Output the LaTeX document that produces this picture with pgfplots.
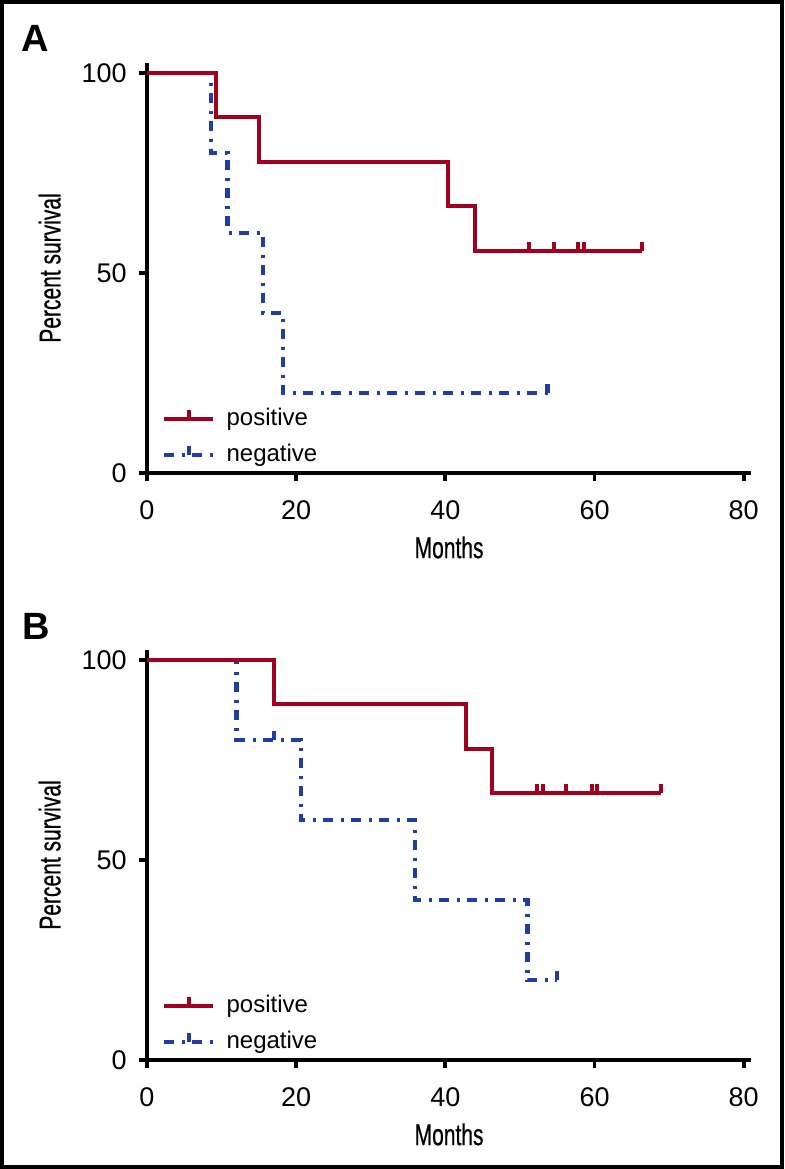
\documentclass[border=0pt]{standalone}
\usepackage{fontspec}
\setmainfont{Liberation Sans}
\newfontfamily\condfont[FakeStretch=0.7,FakeBold=0.6]{Liberation Sans}
\usepackage{pgfplots}
\pgfplotsset{compat=1.18}
\definecolor{kmred}{HTML}{A3001E}
\definecolor{kmblue}{HTML}{1F3DA6}

% censor tick: short upward stroke
\pgfdeclareplotmark{cens}{%
  \pgfpathmoveto{\pgfqpoint{0pt}{0pt}}%
  \pgfpathlineto{\pgfqpoint{0pt}{\pgfplotmarksize}}%
  \pgfusepathqstroke}

\tikzset{
  posline/.style={kmred, line width=2pt},
  negline/.style={kmblue, line width=2.1pt, dash pattern=on 5pt off 4pt on 1.5pt off 3.5pt},
}

\pgfplotsset{
  kmaxis/.style={
    scale only axis, width=302.1pt, height=205pt,
    xmin=0, xmax=81, ymin=0, ymax=102.5,
    axis x line*=bottom, axis y line*=left,
    axis line style={-, line width=1.9pt, black},
    xtick={0,20,40,60,80}, ytick={0,50,100},
    tick align=outside, major tick length=4pt,
    tick style={line width=1.9pt, black},
    /pgf/number format/assume math mode=true,
    ticklabel style={font=\fontsize{13.5}{15}\selectfont},
    xticklabel style={inner sep=0pt, yshift=-9.5pt},
    yticklabel style={inner sep=0pt, xshift=-6pt},
    xlabel={Months}, ylabel={Percent survival},
    label style={font=\condfont\fontsize{15}{17}\selectfont},
    xlabel style={at={(axis description cs:0.5,0)}, anchor=north, inner sep=0pt, yshift=-31.5pt},
    ylabel style={at={(axis description cs:-0.161,0.5)}, anchor=center},
    clip=false,
    legend style={draw=none, fill=none, at={(axis description cs:0,0)}, anchor=south west,
      xshift=7.5pt, yshift=3pt, inner sep=0pt, row sep=6.5pt, column sep=5.5pt,
      font=\fontsize{12}{14}\selectfont,
      nodes={inner sep=0pt, text height=8.8pt, text depth=2.6pt}},
    legend cell align=left, reverse legend,
  },
  posleg/.style={legend image code/.code={
      \draw[posline] (0pt,0pt) -- (24.5pt,0pt);
      \draw[posline] (12.25pt,0pt) -- (12.25pt,4.5pt);}},
  negleg/.style={legend image code/.code={
      \draw[negline] (0pt,0pt) -- (24.5pt,0pt);
      \draw[kmblue, line width=2.1pt] (12.25pt,0pt) -- (12.25pt,4.5pt);}},
}

\begin{document}
\begin{tikzpicture}
\useasboundingbox (0,0) rectangle (392pt,584.5pt);
\draw[line width=2pt] (1pt,1pt) rectangle (391pt,583.5pt);

\node[anchor=base west, inner sep=0pt, font=\bfseries\fontsize{19}{22}\selectfont] at (10.5pt,558.5pt) {A};
\node[anchor=base west, inner sep=0pt, font=\bfseries\fontsize{19}{22}\selectfont] at (11pt,264.5pt) {B};

% panel A
\begin{axis}[kmaxis, at={(73.5pt,348pt)}, anchor=south west]
\addplot[negline, const plot, negleg]
  coordinates {(0,100) (8.6,80) (10.8,60) (15.6,40) (18.2,20) (53.7,20)};
\addlegendentry{negative}
\addplot[posline, const plot, posleg]
  coordinates {(0,100) (9.3,88.9) (15.0,77.8) (40.4,66.7) (44.0,55.6) (66.4,55.6)};
\addlegendentry{positive}
\addplot[only marks, mark=cens, mark size=4.5pt, kmred, mark options={solid, line width=2pt}, forget plot]
  coordinates {(51.2,55.6) (54.5,55.6) (57.8,55.6) (58.6,55.6) (66.4,55.6)};
\addplot[only marks, mark=cens, mark size=4.5pt, kmblue, mark options={solid, line width=2.1pt}, forget plot]
  coordinates {(53.7,20)};
\end{axis}

% panel B
\begin{axis}[kmaxis, at={(73.5pt,54.5pt)}, anchor=south west]
\addplot[negline, const plot, negleg]
  coordinates {(0,100) (12.0,80) (20.6,60) (35.9,40) (51.0,20) (55.0,20)};
\addlegendentry{negative}
\addplot[posline, const plot, posleg]
  coordinates {(0,100) (17.0,88.9) (42.8,77.8) (46.2,66.7) (68.9,66.7)};
\addlegendentry{positive}
\addplot[only marks, mark=cens, mark size=4.5pt, kmred, mark options={solid, line width=2pt}, forget plot]
  coordinates {(52.3,66.7) (53.1,66.7) (56.2,66.7) (59.6,66.7) (60.3,66.7) (68.9,66.7)};
\addplot[only marks, mark=cens, mark size=4.5pt, kmblue, mark options={solid, line width=2.1pt}, forget plot]
  coordinates {(17.0,80) (55.0,20)};
\end{axis}
\end{tikzpicture}
\end{document}
